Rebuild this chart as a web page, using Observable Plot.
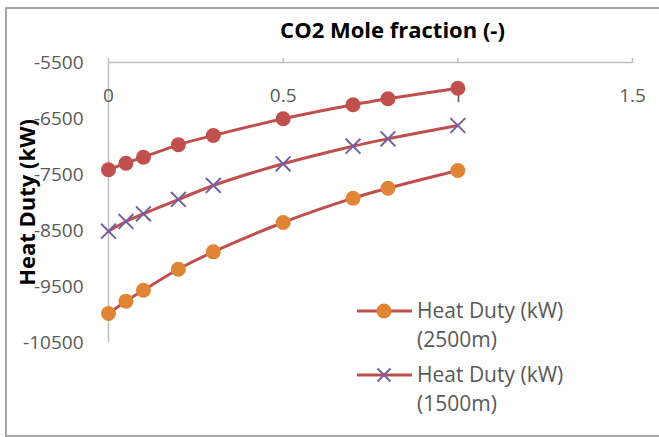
<!DOCTYPE html>
<html>
<head>
<meta charset="utf-8">
<script src="https://cdn.jsdelivr.net/npm/d3@7"></script>
<script src="https://cdn.jsdelivr.net/npm/@observablehq/plot@0.6"></script>
<style>
  html, body { margin: 0; padding: 0; background: #fff; }
  #wrap { position: relative; width: 659px; height: 437px; overflow: hidden; font-family: "Open Sans", sans-serif; }
  #frame { position: absolute; left: 5px; top: 7px; width: 700px; height: 430px; border: 2px solid #a6a6a6; box-sizing: border-box; pointer-events: none; }
  #chart { position: absolute; left: 0; top: 0; }
  #legend { position: absolute; left: 356px; top: 296px; color: #595959; font-size: 21px; line-height: 29px; }
  .entry { position: relative; padding-left: 61px; margin-bottom: 6px; }
  .entry svg { position: absolute; left: 0; top: 0; }
</style>
</head>
<body>
<div id="wrap">
  <div id="chart"></div>
  <div id="frame"></div>
  <div id="legend"></div>
</div>
<script>
// CO2 mole fraction (x)
const moleFraction = [0, 0.05, 0.1, 0.2, 0.3, 0.5, 0.7, 0.8, 1];
// Series without legend entry (top curve)
const dutyTop = [-7416, -7298, -7191, -6970, -6804, -6505, -6255, -6148, -5959];
// Heat Duty (kW) (1500m)
const duty1500 = [-8512, -8339, -8202, -7946, -7696, -7309, -6995, -6863, -6625];
// Heat Duty (kW) (2500m)
const duty2500 = [-9982, -9762, -9566, -9191, -8881, -8357, -7923, -7745, -7429];

const xTicks = [0, 0.5, 1, 1.5];
const yTicks = [-5500, -6500, -7500, -8500, -9500, -10500];
const xTitle = "CO2 Mole fraction (-)";
const yTitle = "Heat Duty (kW)";
const legendLabels = [["Heat Duty (kW)", "(2500m)"], ["Heat Duty (kW)", "(1500m)"]];

const lineColor = "#C0504D";
const orange = "#E08536";
const purple = "#7360A3";
const axisColor = "#bfbfbf";

const toRows = vals => moleFraction.map((x, i) => ({x, y: vals[i]}));
const sTop = toRows(dutyTop), s1500 = toRows(duty1500), s2500 = toRows(duty2500);

const chart = Plot.plot({
  width: 659,
  height: 437,
  marginLeft: 108,
  marginRight: 27,
  marginTop: 62,
  marginBottom: 95,
  style: {fontFamily: "'Open Sans', sans-serif", fontSize: "19px", color: "#595959", background: "transparent"},
  x: {domain: [0, 1.5]},
  y: {domain: [-10500, -5500]},
  marks: [
    Plot.ruleY([-5500], {stroke: axisColor, strokeWidth: 1.5}),
    Plot.ruleX([0], {stroke: axisColor, strokeWidth: 1.5}),
    Plot.axisX({anchor: "top", ticks: xTicks, tickSize: 5, tickFormat: () => "", stroke: axisColor, strokeWidth: 1.5, label: null}),
    Plot.text(xTicks, {x: d => d, y: () => -5500, text: d => String(d), dy: 33, fill: "#595959", fontSize: 19}),
    Plot.axisY({anchor: "left", ticks: yTicks, tickSize: 0, tickPadding: 25, tickFormat: d => String(d), fill: "#595959", fontSize: 19, label: null}),
    Plot.text([xTitle], {frameAnchor: "top", lineAnchor: "middle", textAnchor: "middle", dx: 22, dy: -32, fontWeight: "bold", fontSize: 22, fill: "#000"}),
    Plot.text([yTitle], {frameAnchor: "left", lineAnchor: "middle", textAnchor: "middle", dx: -81, rotate: -90, fontWeight: "bold", fontSize: 22, fill: "#000"}),
    Plot.line(sTop, {x: "x", y: "y", stroke: lineColor, strokeWidth: 3, curve: "catmull-rom"}),
    Plot.dot(sTop, {x: "x", y: "y", r: 7.5, fill: lineColor}),
    Plot.line(s2500, {x: "x", y: "y", stroke: lineColor, strokeWidth: 3, curve: "catmull-rom"}),
    Plot.dot(s2500, {x: "x", y: "y", r: 7.5, fill: orange}),
    Plot.line(s1500, {x: "x", y: "y", stroke: lineColor, strokeWidth: 3, curve: "catmull-rom"}),
    Plot.dot(s1500, {x: "x", y: "y", r: 6.8, symbol: "times", stroke: purple, strokeWidth: 2})
  ]
});
document.getElementById("chart").appendChild(chart);

// Legend
const legend = document.getElementById("legend");
const symbols = [
  `<circle cx="28" cy="15" r="7.5" fill="${orange}"/>`,
  `<path d="M21.5,8.5L34.5,21.5M34.5,8.5L21.5,21.5" stroke="${purple}" stroke-width="2"/>`
];
legendLabels.forEach((lines, i) => {
  const e = document.createElement("div");
  e.className = "entry";
  e.innerHTML = `<svg width="56" height="30"><line x1="1" x2="56" y1="15" y2="15" stroke="${lineColor}" stroke-width="3"/>${symbols[i]}</svg>` +
    lines.map(t => `<div>${t}</div>`).join("");
  legend.appendChild(e);
});
</script>
</body>
</html>
